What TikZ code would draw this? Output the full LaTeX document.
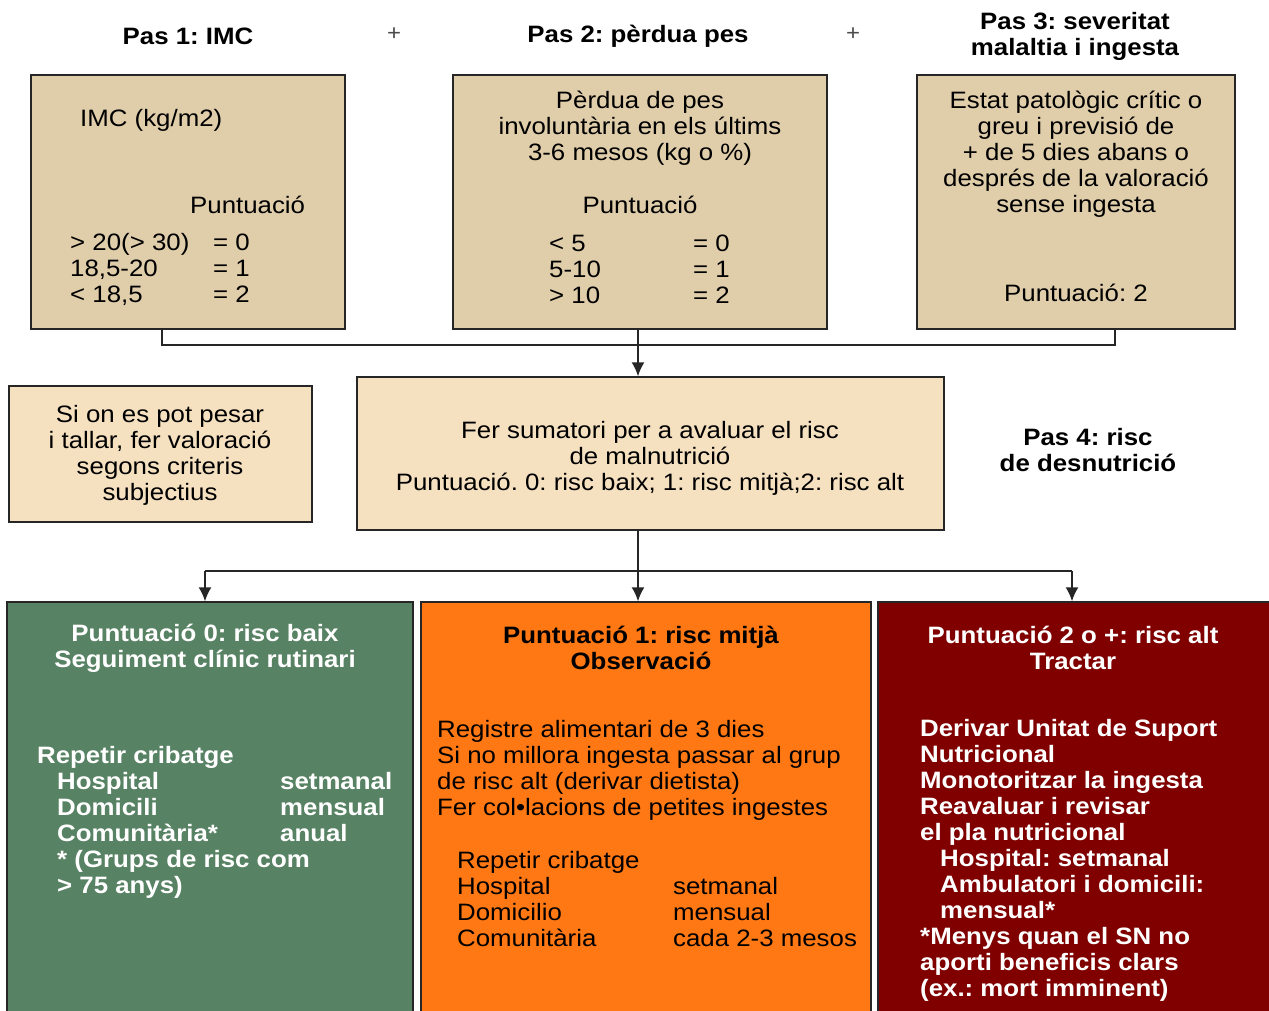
\documentclass[tikz,border=0pt]{standalone}
\usepackage{fontspec}
\setmainfont{Liberation Sans}[FakeStretch=1.09]
\usetikzlibrary{arrows.meta}
\definecolor{boxtan}{RGB}{224,205,170}
\definecolor{boxlight}{RGB}{245,224,192}
\definecolor{lowgreen}{RGB}{88,130,100}
\definecolor{midorange}{RGB}{255,120,20}
\definecolor{highred}{RGB}{128,0,0}
\newcommand{\tabto}[2]{\makebox[#1][l]{#2}}
\frenchspacing

\begin{document}
\begin{tikzpicture}[
x=1pt, y=-1pt,
every node/.style={inner sep=0pt, font=\fontsize{23.7}{26}\selectfont},
txt/.style={align=left},
title/.style={align=center, font=\fontsize{23.7}{26}\selectfont\bfseries},
plus/.style={font=\fontsize{22}{26}\selectfont, text=black!70},
box/.style={draw=black!85, line width=1.5pt, fill=boxtan},
link/.style={draw=black!85, line width=1.5pt},
flow/.style={link, -{Latex[length=14pt,width=13pt]}},
]
\useasboundingbox[fill=white] (0,0) rectangle (1269,1010);

% boxes
\node[box, minimum width=314pt, minimum height=254pt] (imc) at (188,202) {};
\node[box, minimum width=374pt, minimum height=254pt] (loss) at (640,202) {};
\node[box, minimum width=318pt, minimum height=254pt] (sev) at (1076,202) {};
\node[box, fill=boxlight, minimum width=303pt, minimum height=136pt] (subj) at (160.5,454) {};
\node[box, fill=boxlight, minimum width=587pt, minimum height=153pt] (sum) at (650.5,453.5) {};
\node[box, fill=lowgreen, minimum width=406pt, minimum height=412pt] (low) at (210,808) {};
\node[box, fill=midorange, minimum width=450pt, minimum height=412pt] (mid) at (646,808) {};
\node[box, fill=highred, minimum width=394pt, minimum height=412pt] (high) at (1075,808) {};

\begin{scope}[yshift=-2pt]
% steps 1 to 3
\node[title] (t1) at (188,34) {Pas 1: IMC};
\node[plus] (p1) at (394,32) {+};
\node[title] (t2) at (638,34) {Pas 2: pèrdua pes};
\node[plus] (p2) at (853,32) {+};
\node[title] (t3) at (1075,34) {Pas 3: severitat\\malaltia i ingesta};

\node[txt, anchor=west] (imct) at (80,118) {IMC (kg/m2)};
\node[txt, anchor=west] (imcp) at (190,203) {Puntuació};
\node[txt, anchor=west] (imcr) at (70,267)
  {\tabto{143pt}{> 20(> 30)}= 0\\\tabto{143pt}{18,5-20}= 1\\\tabto{143pt}{< 18,5}= 2};

\node[align=center] (losst) at (640,126) {Pèrdua de pes\\involuntària en els últims\\3-6 mesos (kg o \%)};
\node (lossp) at (640,203) {Puntuació};
\node[txt, anchor=west] (lossr) at (549,267)
  {\tabto{144pt}{< 5}= 0\\\tabto{144pt}{5-10}= 1\\\tabto{144pt}{> 10}= 2};

\node[align=center] (sevt) at (1076,152) {Estat patològic crític o\\greu i previsió de\\+ de 5 dies abans o\\després de la valoració\\sense ingesta};
\node (sevp) at (1076,291) {Puntuació: 2};

% step 4
\node[align=center] (subjt) at (160,453) {Si on es pot pesar\\i tallar, fer valoració\\segons criteris\\subjectius};
\node[align=center] (sumt) at (650,456) {Fer sumatori per a avaluar el risc\\de malnutrició\\Puntuació. 0: risc baix; 1: risc mitjà;2: risc alt};
\node[title] (t4) at (1088,448) {Pas 4: risc\\de desnutrició};

% risk levels
\node[title, text=white] (lowh) at (205,646) {Puntuació 0: risc baix\\Seguiment clínic rutinari};
\node[txt, anchor=west, text=white, font=\fontsize{23.7}{26}\selectfont\bfseries] (lowb) at (37,820)
  {Repetir cribatge\\
   \hspace*{20pt}\tabto{223pt}{Hospital}setmanal\\
   \hspace*{20pt}\tabto{223pt}{Domicili}mensual\\
   \hspace*{20pt}\tabto{223pt}{Comunitària*}anual\\
   \hspace*{20pt}* (Grups de risc com\\
   \hspace*{20pt}> 75 anys)};

\node[title] (midh) at (641,646) {Puntuació 1: risc mitjà\\Observació};
\node[txt, anchor=west] (midb) at (437,768)
  {Registre alimentari de 3 dies\\Si no millora ingesta passar al grup\\de risc alt (derivar dietista)\\Fer col•lacions de petites ingestes};
\node[txt, anchor=west] (midr) at (457,897)
  {Repetir cribatge\\
   \tabto{216pt}{Hospital}setmanal\\
   \tabto{216pt}{Domicilio}mensual\\
   \tabto{216pt}{Comunitària}cada 2-3 mesos};

\node[title, text=white] (highh) at (1073,646) {Puntuació 2 o +: risc alt\\Tractar};
\node[txt, anchor=west, text=white, font=\fontsize{23.7}{26}\selectfont\bfseries] (highb) at (920,858.5)
  {Derivar Unitat de Suport\\Nutricional\\Monotoritzar la ingesta\\Reavaluar i revisar\\el pla nutricional\\
   \hspace*{20pt}Hospital: setmanal\\
   \hspace*{20pt}Ambulatori i domicili:\\
   \hspace*{20pt}mensual*\\
   *Menys quan el SN no\\aporti beneficis clars\\(ex.: mort imminent)};
\end{scope}

% connectors
\coordinate (jl) at (162,345);
\coordinate (jm) at (638,345);
\coordinate (jr) at (1115,345);
\draw[link] (imc.south -| jl) -- (jl) -- (jr) -- (sev.south -| jr);
\draw[flow] (loss.south -| jm) -- (sum.north -| jm);

\coordinate (sl) at (205,571);
\coordinate (sm) at (638,571);
\coordinate (sr) at (1072,571);
\draw[flow] (sum.south -| sm) -- (mid.north -| sm);
\draw[link] (sl) -- (sr);
\draw[flow] (sl) -- (low.north -| sl);
\draw[flow] (sr) -- (high.north -| sr);
\end{tikzpicture}
\end{document}
